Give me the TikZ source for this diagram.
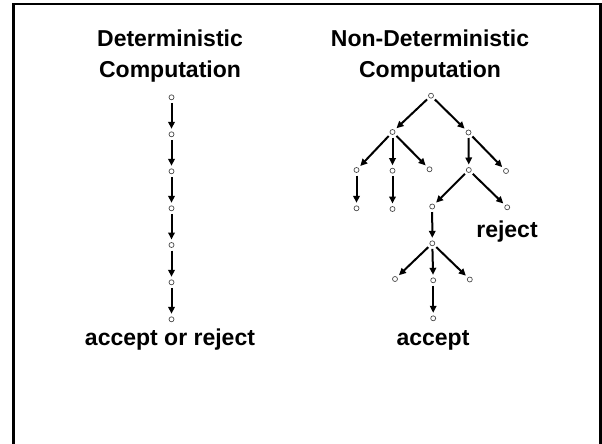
\documentclass[tikz,border=0pt]{standalone}
\usepackage{fontspec}
\setmainfont{Liberation Sans}
\usetikzlibrary{arrows.meta}
\begin{document}
\begin{tikzpicture}[x=1pt,y=-1pt,
  state/.style={circle,draw=black!70,line width=0.7pt,minimum size=5pt,inner sep=0pt,outer sep=0pt},
  move/.style={-{Triangle[length=7pt,width=6.5pt]},line width=2pt,shorten <=3pt,shorten >=3pt},
  label/.style={font=\fontsize{23}{28}\selectfont\bfseries,anchor=base,inner sep=0pt}]
\useasboundingbox (0,0) rectangle (602,444);
% slide frame
\draw[line width=2.5pt] (13.5,4) rectangle (600.5,460);

% titles
\node[label] (dt1) at (170,46.7) {Deterministic};
\node[label] (dt2) at (170,77.7) {Computation};
\node[label] (nt1) at (430,46.7) {Non-Deterministic};
\node[label] (nt2) at (430,77.7) {Computation};

% deterministic chain
\foreach \i/\y in {1/97.3,2/134.3,3/171.3,4/208.3,5/245,6/282.3,7/319.3}
  \node[state] (d\i) at (171.5,\y) {};
\foreach \i [evaluate=\i as \j using int(\i+1)] in {1,...,6}
  \draw[move] (d\i) -- (d\j);
\node[label] (dres) at (170,345) {accept or reject};

% non-deterministic tree
\node[state] (r)   at (431,95.7) {};
\node[state] (a)   at (392.5,132) {};
\node[state] (b)   at (468.5,132.5) {};
\node[state] (aa)  at (356.5,170) {};
\node[state] (ab)  at (392.5,170.7) {};
\node[state] (ac)  at (429.5,169.3) {};
\node[state] (ba)  at (468.8,170) {};
\node[state] (bb)  at (506,171) {};
\node[state] (aaa) at (356.5,208.3) {};
\node[state] (aba) at (392.5,209) {};
\node[state] (baa) at (432.2,206.5) {};
\node[state] (bab) at (507.2,207.3) {};
\node[state] (c)   at (432.3,243.3) {};
\node[state] (ca)  at (395,279) {};
\node[state] (cb)  at (433.2,280.3) {};
\node[state] (cc)  at (469.8,279.5) {};
\node[state] (cba) at (433.2,318.3) {};

\draw[move] (r) -- (a);
\draw[move] (r) -- (b);
\draw[move] (a) -- (aa);
\draw[move] (a) -- (ab);
\draw[move] (a) -- (ac);
\draw[move] (b) -- (ba);
\draw[move] (b) -- (bb);
\draw[move] (aa) -- (aaa);
\draw[move] (ab) -- (aba);
\draw[move] (ba) -- (baa);
\draw[move] (ba) -- (bab);
\draw[move] (baa) -- (c);
\draw[move] (c) -- (ca);
\draw[move] (c) -- (cb);
\draw[move] (c) -- (cc);
\draw[move] (cb) -- (cba);

\node[label] (rej) at (507,237.3) {reject};
\node[label] (acc) at (433,345.7) {accept};
\end{tikzpicture}
\end{document}
